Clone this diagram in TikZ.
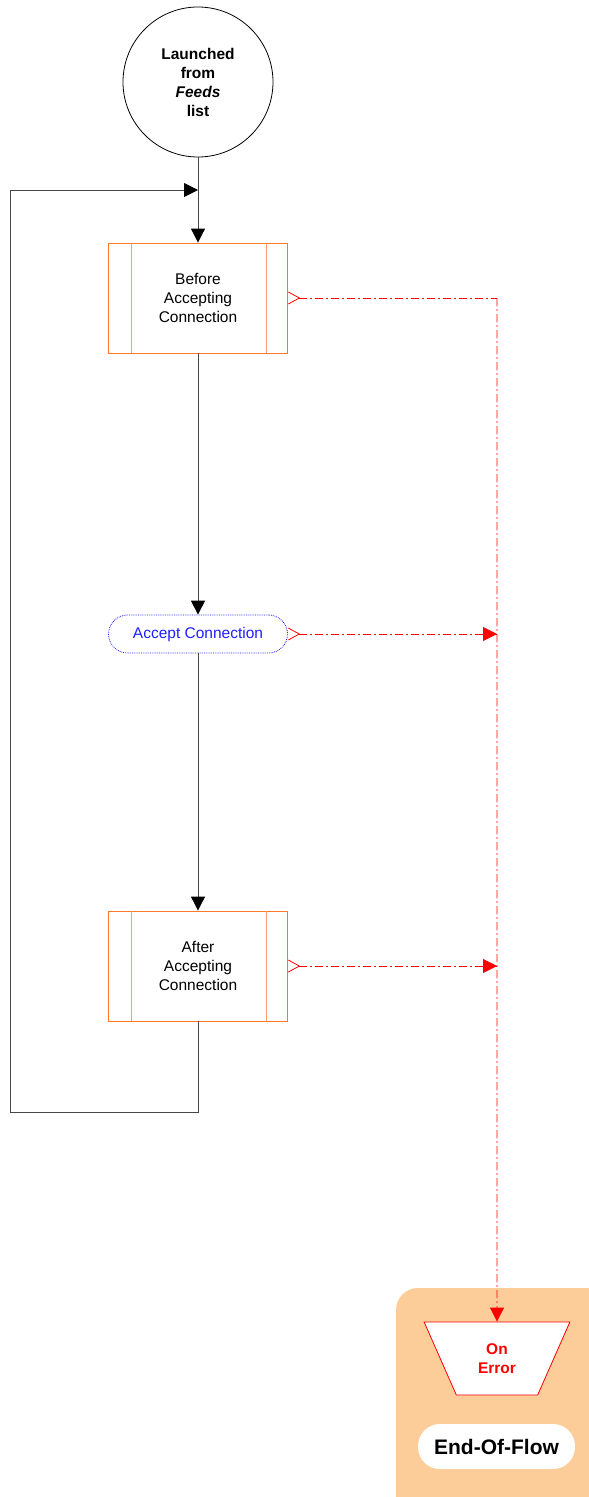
\documentclass[tikz,border=0pt]{standalone}
\usepackage{fontspec}
\setmainfont{Liberation Sans}
\usetikzlibrary{arrows.meta,shapes.geometric,calc}
\definecolor{boxorange}{RGB}{250,120,40}
\definecolor{boxinner}{RGB}{250,160,110}
\definecolor{errred}{RGB}{255,0,0}
\definecolor{accblue}{RGB}{30,30,255}
\definecolor{peach}{RGB}{252,204,153}
\definecolor{connline}{RGB}{70,70,70}
\tikzset{
  basefont/.style={font=\fontsize{15.5}{19}\selectfont},
  procbox/.style={draw=boxorange, line width=0.9pt, minimum width=179pt, minimum height=110pt, align=center, basefont, inner sep=0pt},
  conn/.style={draw=connline, line width=1pt, -{Triangle[length=14pt,width=14pt,black]}},
  loopline/.style={draw=connline, line width=1pt},
  errline/.style={draw=errred, line width=0.8pt, dash pattern=on 8pt off 3pt on 2pt off 3pt},
  errtail/.style={{Straight Barb[reversed,length=11pt,width=12pt,line width=0.8pt]}-},
  errhead/.style={-{Triangle[length=14pt,width=14pt]}},
}
\begin{document}
\begin{tikzpicture}[x=1pt,y=-1pt]
\useasboundingbox (0,0) rectangle (589,1497);
% end-of-flow background
\fill[peach, rounded corners=22pt] (396,1288) rectangle (615,1525);

% start circle
\node[circle, draw, line width=0.8pt, minimum size=150pt, inner sep=0pt, align=center, font=\fontsize{15.5}{19}\selectfont\bfseries] (start) at (198,82) {Launched\\from\\\textit{Feeds}\\list};

% process boxes
\node[procbox] (b1) at (198,298) {Before\\Accepting\\Connection};
\draw[boxinner, line width=0.9pt] ([xshift=23pt]b1.north west) -- ([xshift=23pt]b1.south west);
\draw[boxinner, line width=0.9pt] ([xshift=-22pt]b1.north east) -- ([xshift=-22pt]b1.south east);

\node[draw=accblue, densely dotted, line width=0.8pt, rounded corners=19pt, minimum width=179pt, minimum height=38pt, inner sep=0pt, text=accblue, basefont] (acc) at (198,634) {Accept Connection};

\node[procbox] (b2) at (198,966) {After\\Accepting\\Connection};
\draw[boxinner, line width=0.9pt] ([xshift=23pt]b2.north west) -- ([xshift=23pt]b2.south west);
\draw[boxinner, line width=0.9pt] ([xshift=-22pt]b2.north east) -- ([xshift=-22pt]b2.south east);

% On Error trapezium
\node[trapezium, trapezium stretches=true, trapezium left angle=63.4, trapezium right angle=63.4, shape border rotate=180, draw=errred, line width=0.8pt, fill=white, minimum width=146pt, minimum height=73pt, inner sep=0pt, align=center, text=errred, font=\fontsize{15.5}{19}\selectfont\bfseries] (err) at (497,1358.5) {On\\Error};

% End-Of-Flow
\node[fill=white, rounded corners=22pt, minimum width=157pt, minimum height=45pt, inner sep=0pt, font=\fontsize{21}{25}\selectfont\bfseries] (eof) at (496.5,1446.5) {End-Of-Flow};

% coordinates
\coordinate (j) at (198,190);
\coordinate (c1) at (10,1112);
\coordinate (c2) at (10,190);
\coordinate (r1) at (497,298);
\coordinate (r2) at (497,634);
\coordinate (r3) at (497,966);

% main connectors
\draw[loopline] (start.south) -- (j);
\draw[conn] (j) -- (b1.north);
\draw[conn] (b1.south) -- (acc.north);
\draw[conn] (acc.south) -- (b2.north);
\draw[loopline] (b2.south) |- (c1);
\draw[conn] (c1) -- (c2) -- (j);

% error connectors
\draw[errline, errtail] (b1.east) -- (r1);
\draw[errline, errhead] (r1) -- (err.north);
\draw[errline, errtail] (acc.east) -- (r2);
\draw[draw=errred, errhead, line width=0.8pt] ([xshift=-1pt]r2) -- (r2);
\draw[errline, errtail] (b2.east) -- (r3);
\draw[draw=errred, errhead, line width=0.8pt] ([xshift=-1pt]r3) -- (r3);
\end{tikzpicture}
\end{document}
